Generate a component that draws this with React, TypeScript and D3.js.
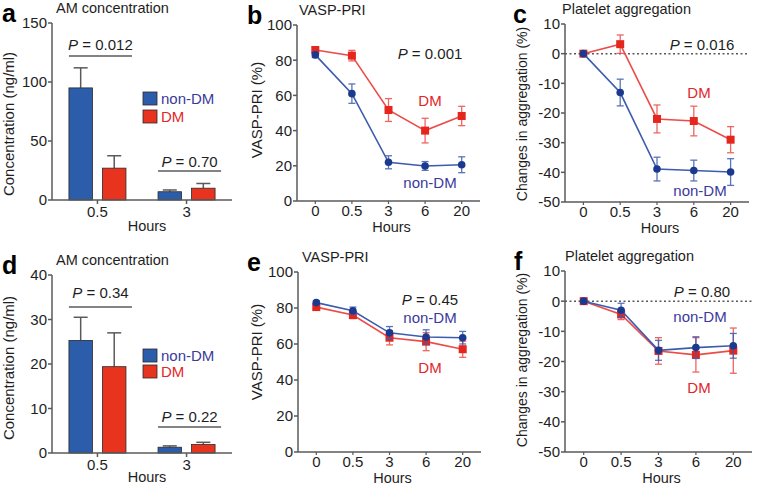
import React from "react";
import * as d3 from "d3";

// ---------- data ----------
const barHours = ["0.5", "3"];
const aNonDM = [95, 7];
const aNonDMErr = [17, 1.5];
const aDM = [27, 10];
const aDMErr = [10.5, 4];
const aTicks = [0, 50, 100, 150];
const aP = ["0.012", "0.70"];

const dNonDM = [25.3, 1.3];
const dNonDMErr = [5.2, 0.3];
const dDM = [19.4, 1.9];
const dDMErr = [7.6, 0.5];
const dTicks = [0, 10, 20, 30, 40];
const dP = ["0.34", "0.22"];

const lineHours = ["0", "0.5", "3", "6", "20"];
const vaspTicks = [0, 20, 40, 60, 80, 100];
const aggTicks = [-50, -40, -30, -20, -10, 0, 10];

const bDM = [85.8, 82.6, 51.7, 40, 48.3];
const bDMErr = [1.5, 3, 6.5, 7, 5.5];
const bNonDM = [83, 61, 22, 19.9, 20.6];
const bNonDMErr = [1.5, 5.5, 3.7, 2.5, 4.5];

const cDM = [0, 3.2, -22, -22.7, -29];
const cDMErr = [0, 3.1, 4.7, 5, 4.4];
const cNonDM = [0, -13.1, -38.9, -39.4, -39.9];
const cNonDMErr = [0, 4.5, 4, 3.5, 4.5];

const eNonDM = [83, 78.5, 66.2, 63.9, 63.5];
const eNonDMErr = [1, 2, 3.5, 4, 3.5];
const eDM = [80.5, 76.1, 63.5, 61.3, 57.1];
const eDMErr = [1, 2, 4, 5, 4.5];

const fNonDM = [0, -3.0, -16.3, -15.4, -14.8];
const fNonDMErr = [0, 2.3, 3.3, 3.6, 4.1];
const fDM = [0, -4.4, -16.5, -17.8, -16.4];
const fDMErr = [0, 1.7, 4.4, 5.7, 7.5];

// ---------- styles ----------
const FONT = "'Liberation Sans', Arial, Helvetica, sans-serif";
const AXIS = "#5a5a5a";
const TXT = "#1e1e1e";
const BLUE_BAR = "#2c5dab";
const RED_BAR = "#e8341f";
const BLUE_LINE = "#3c5cae";
const BLUE_MARK = "#1b3a8f";
const RED_LINE = "#ec4b48";
const RED_MARK = "#e5261f";
const BLUE_TXT = "#3a3a9c";
const RED_TXT = "#e3262a";

function PText({ x, y, value, anchor = "middle" }: any) {
  return (
    <text x={x} y={y} textAnchor={anchor} fontSize={15} fill={TXT} fontFamily={FONT}>
      <tspan fontStyle="italic">P</tspan>
      <tspan>{" = " + value}</tspan>
    </text>
  );
}

function Letter({ x, y, t }: any) {
  return (
    <text x={x} y={y} fontSize={25} fontWeight="bold" fontFamily={FONT} fill="#000">
      {t}
    </text>
  );
}

function YAxis({ x, y, ticks }: any) {
  const [r0, r1] = y.range();
  return (
    <g>
      <line x1={x} x2={x} y1={r0} y2={r1} stroke={AXIS} strokeWidth={1.5} />
      {ticks.map((t: number) => (
        <g key={t}>
          <line x1={x - 4} x2={x} y1={y(t)} y2={y(t)} stroke={AXIS} strokeWidth={1.5} />
          <text x={x - 5} y={y(t)} dy="0.36em" textAnchor="end" fontSize={15} fill={TXT} fontFamily={FONT}>
            {t}
          </text>
        </g>
      ))}
    </g>
  );
}

function BarPanel(props: any) {
  const { letter, yMax, ticks, nonDM, nonDMErr, dm, dmErr, pvals, pBase, pLine, legendY, yLabelCY, top, bottom, hoursDy } = props;
  const axisX = 52;
  const axisEnd = 232;
  const x = d3.scaleBand().domain(barHours).range([axisX, axisEnd]).paddingInner(0.36).paddingOuter(0.19);
  const sub = d3.scaleBand().domain(["nonDM", "DM"]).range([0, x.bandwidth()]).paddingInner(0.3);
  const y = d3.scaleLinear().domain([0, yMax]).range([bottom, top]);
  const series = [
    { key: "nonDM", vals: nonDM, errs: nonDMErr, color: BLUE_BAR },
    { key: "DM", vals: dm, errs: dmErr, color: RED_BAR },
  ];
  return (
    <g>
      <Letter x={2} y={top - 1} t={letter} />
      <text x={56} y={top - 10} fontSize={14.5} fill={TXT} fontFamily={FONT}>AM concentration</text>
      <text transform={`translate(14,${yLabelCY}) rotate(-90)`} textAnchor="middle" fontSize={15} fill={TXT} fontFamily={FONT}>
        Concentration (ng/ml)
      </text>
      {series.map((s) =>
        barHours.map((h, i) => {
          const bx = (x(h) as number) + (sub(s.key) as number);
          const bw = sub.bandwidth();
          const cx = bx + bw / 2;
          return (
            <g key={s.key + h}>
              <line x1={cx} x2={cx} y1={y(s.vals[i])} y2={y(s.vals[i] + s.errs[i])} stroke={AXIS} strokeWidth={1.5} />
              <line x1={cx - 7} x2={cx + 7} y1={y(s.vals[i] + s.errs[i])} y2={y(s.vals[i] + s.errs[i])} stroke={AXIS} strokeWidth={1.5} />
              <rect x={bx} y={y(s.vals[i])} width={bw} height={y(0) - y(s.vals[i])} fill={s.color} stroke="#2a2a2a" strokeWidth={0.8} />
            </g>
          );
        })
      )}
      <YAxis x={axisX} y={y} ticks={ticks} />
      <line x1={axisX} x2={axisEnd} y1={bottom} y2={bottom} stroke={AXIS} strokeWidth={1.5} />
      {barHours.map((h) => {
        const cx = (x(h) as number) + x.bandwidth() / 2;
        return (
          <g key={h}>
            <line x1={cx} x2={cx} y1={bottom} y2={bottom + 4} stroke={AXIS} strokeWidth={1.5} />
            <text x={cx} y={bottom + 17} textAnchor="middle" fontSize={15} fill={TXT} fontFamily={FONT}>{h}</text>
          </g>
        );
      })}
      <text x={147} y={bottom + hoursDy} textAnchor="middle" fontSize={14.5} fill={TXT} fontFamily={FONT}>Hours</text>
      {barHours.map((h, i) => {
        const x0 = x(h) as number;
        const x1 = x0 + x.bandwidth() + 6;
        return (
          <g key={"p" + h}>
            <line x1={x0} x2={x1} y1={pLine[i]} y2={pLine[i]} stroke={AXIS} strokeWidth={1.5} />
            <PText x={(x0 + x1) / 2} y={pBase[i]} value={pvals[i]} />
          </g>
        );
      })}
      <rect x={143} y={legendY[0]} width={14} height={13} fill={BLUE_BAR} stroke="#2a2a2a" strokeWidth={0.8} />
      <rect x={143} y={legendY[1]} width={14} height={13} fill={RED_BAR} stroke="#2a2a2a" strokeWidth={0.8} />
      <text x={161} y={legendY[0] + 12} fontSize={15} fill={BLUE_TXT} fontFamily={FONT}>non-DM</text>
      <text x={161} y={legendY[1] + 12} fontSize={15} fill={RED_TXT} fontFamily={FONT}>DM</text>
    </g>
  );
}

function LinePanel(props: any) {
  const { letter, title, axisX, axisEnd, top, bottom, domain, ticks, yLabel, yLabelX, yLabelCY, yLabelSize, zeroLine,
    red, redErr, blue, blueErr, p, pPos, dmPos, nonPos, letterX, titleX, hoursDy } = props;
  const x = d3.scalePoint().domain(lineHours).range([axisX, axisEnd]).padding(0.5);
  const y = d3.scaleLinear().domain(domain).range([bottom, top]);
  const line = d3.line<number>().x((_, i) => x(lineHours[i]) as number).y((d) => y(d));
  const errs = (vals: number[], es: number[], color: string) =>
    vals.map((v, i) => {
      if (!es[i]) return null;
      const cx = x(lineHours[i]) as number;
      return (
        <g key={i} stroke={color} strokeWidth={1.3} opacity={0.85}>
          <line x1={cx} x2={cx} y1={y(v - es[i])} y2={y(v + es[i])} />
          <line x1={cx - 3.5} x2={cx + 3.5} y1={y(v - es[i])} y2={y(v - es[i])} />
          <line x1={cx - 3.5} x2={cx + 3.5} y1={y(v + es[i])} y2={y(v + es[i])} />
        </g>
      );
    });
  return (
    <g>
      <Letter x={letterX} y={top - 1} t={letter} />
      <text x={titleX} y={top - 10} fontSize={14.5} fill={TXT} fontFamily={FONT}>{title}</text>
      <text transform={`translate(${yLabelX},${yLabelCY}) rotate(-90)`} textAnchor="middle" fontSize={yLabelSize || 15} fill={TXT} fontFamily={FONT}>
        {yLabel}
      </text>
      {zeroLine && (
        <line x1={axisX} x2={axisEnd} y1={y(0)} y2={y(0)} stroke={AXIS} strokeWidth={1.5} strokeDasharray="2 2.5" />
      )}
      <YAxis x={axisX} y={y} ticks={ticks} />
      <line x1={axisX} x2={axisEnd} y1={bottom} y2={bottom} stroke={AXIS} strokeWidth={1.5} />
      {lineHours.map((h) => (
        <g key={h}>
          <line x1={x(h)} x2={x(h)} y1={bottom} y2={bottom + 3} stroke={AXIS} strokeWidth={1.2} />
          <text x={x(h)} y={bottom + 15} textAnchor="middle" fontSize={15} fill={TXT} fontFamily={FONT}>{h}</text>
        </g>
      ))}
      <text x={(axisX + axisEnd) / 2 + 3} y={bottom + hoursDy} textAnchor="middle" fontSize={14.5} fill={TXT} fontFamily={FONT}>Hours</text>
      {errs(red, redErr, RED_LINE)}
      <path d={line(red) || ""} fill="none" stroke={RED_LINE} strokeWidth={1.6} />
      {red.map((v: number, i: number) => (
        <rect key={i} x={(x(lineHours[i]) as number) - 4} y={y(v) - 4} width={8} height={8} fill={RED_MARK} />
      ))}
      {errs(blue, blueErr, BLUE_LINE)}
      <path d={line(blue) || ""} fill="none" stroke={BLUE_LINE} strokeWidth={1.6} />
      {blue.map((v: number, i: number) => (
        <circle key={i} cx={x(lineHours[i]) as number} cy={y(v)} r={3.8} fill={BLUE_MARK} />
      ))}
      <PText x={pPos[0]} y={pPos[1]} value={p} />
      <text x={dmPos[0]} y={dmPos[1]} textAnchor="middle" fontSize={15} fill={RED_TXT} fontFamily={FONT}>DM</text>
      <text x={nonPos[0]} y={nonPos[1]} textAnchor="middle" fontSize={15} fill={BLUE_TXT} fontFamily={FONT}>non-DM</text>
    </g>
  );
}

export default function App() {
  return (
    <svg width={778} height={486} style={{ position: "absolute", left: 0, top: 0, background: "#fff" }}>
      <rect width={778} height={486} fill="#fff" />
      <BarPanel letter="a" top={23} bottom={200} yMax={150} ticks={aTicks} hoursDy={31}
        nonDM={aNonDM} nonDMErr={aNonDMErr} dm={aDM} dmErr={aDMErr}
        pvals={aP} pBase={[50, 167]} pLine={[56, 171]} legendY={[92, 110]} yLabelCY={124} />
      <BarPanel letter="d" top={275} bottom={453} yMax={40} ticks={dTicks} hoursDy={29}
        nonDM={dNonDM} nonDMErr={dNonDMErr} dm={dDM} dmErr={dDMErr}
        pvals={dP} pBase={[298, 422]} pLine={[307, 427]} legendY={[349, 365]} yLabelCY={368} />
      <LinePanel letter="b" letterX={247} title="VASP-PRI" titleX={299} axisX={297} axisEnd={480} top={25} bottom={201} hoursDy={31}
        domain={[0, 100]} ticks={vaspTicks} yLabel="VASP-PRI (%)" yLabelX={262} yLabelCY={110}
        red={bDM} redErr={bDMErr} blue={bNonDM} blueErr={bNonDMErr}
        p="0.001" pPos={[430, 59]} dmPos={[430, 106]} nonPos={[430, 188]} />
      <LinePanel letter="c" letterX={513} title="Platelet aggregation" titleX={562} axisX={565} axisEnd={749} top={24} bottom={202} hoursDy={31}
        domain={[-50, 10]} ticks={aggTicks} yLabel="Changes in aggregation (%)" yLabelX={527} yLabelCY={114} yLabelSize={14} zeroLine
        red={cDM} redErr={cDMErr} blue={cNonDM} blueErr={cNonDMErr}
        p="0.016" pPos={[702, 50]} dmPos={[699, 98]} nonPos={[700, 196]} />
      <LinePanel letter="e" letterX={247} title="VASP-PRI" titleX={302} axisX={298} axisEnd={481} top={272} bottom={452} hoursDy={31}
        domain={[0, 100]} ticks={vaspTicks} yLabel="VASP-PRI (%)" yLabelX={262} yLabelCY={352}
        red={eDM} redErr={eDMErr} blue={eNonDM} blueErr={eNonDMErr}
        p="0.45" pPos={[430, 305]} dmPos={[430, 373]} nonPos={[430, 323]} />
      <LinePanel letter="f" letterX={514} title="Platelet aggregation" titleX={565} axisX={565} axisEnd={752} top={271} bottom={452} hoursDy={31}
        domain={[-50, 10]} ticks={aggTicks} yLabel="Changes in aggregation (%)" yLabelX={527} yLabelCY={360} yLabelSize={14} zeroLine
        red={fDM} redErr={fDMErr} blue={fNonDM} blueErr={fNonDMErr}
        p="0.80" pPos={[702, 297]} dmPos={[699, 393]} nonPos={[700, 322]} />
    </svg>
  );
}
